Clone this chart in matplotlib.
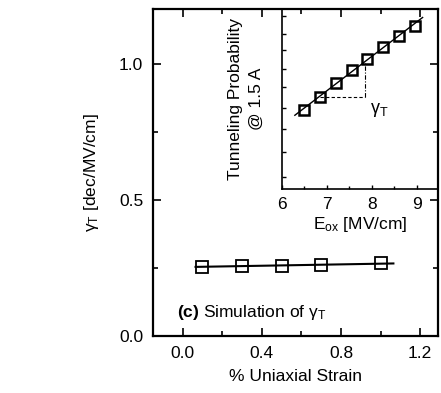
import numpy as np
import matplotlib
matplotlib.use("Agg")
import matplotlib.pyplot as plt
from matplotlib.ticker import MultipleLocator, FixedLocator

plt.rcParams['font.family'] = ['Liberation Sans', 'DejaVu Sans']
plt.rcParams['mathtext.fontset'] = 'custom'
plt.rcParams['mathtext.rm'] = 'Liberation Sans'
plt.rcParams['mathtext.it'] = 'Liberation Sans'
plt.rcParams['mathtext.bf'] = 'Liberation Sans:bold'

# main data
strain = [0.1, 0.3, 0.5, 0.7, 1.0]
gamma_t = [0.255, 0.257, 0.258, 0.260, 0.267]
fit_x = [0.065, 1.065]

# inset data
eox = [6.5, 6.85, 7.2, 7.55, 7.9, 8.25, 8.6, 8.95]
tun_prob = [0.439, 0.513, 0.591, 0.661, 0.722, 0.791, 0.852, 0.906]
inset_fit_x = [6.29, 9.13]
inset_yticks = [0.067, 0.206, 0.333, 0.45, 0.567, 0.667, 0.772, 0.861, 0.963]
gamma_x = 7.84

fig = plt.figure(figsize=(4.41, 3.93), dpi=100)
ax = fig.add_axes([0.347, 0.145, 0.646, 0.832])

c = np.polyfit(strain, gamma_t, 1)
ax.plot(fit_x, np.polyval(c, fit_x), color='black', lw=1.5, zorder=2)
ax.plot(strain, gamma_t, ls='none', marker='s', ms=8, mfc='none', mec='black', mew=1.3, zorder=3)

ax.set_xlim(-0.15, 1.29)
ax.set_ylim(0, 1.2)
ax.xaxis.set_major_locator(FixedLocator([0.0, 0.4, 0.8, 1.2]))
ax.xaxis.set_minor_locator(MultipleLocator(0.2))
ax.yaxis.set_major_locator(FixedLocator([0.0, 0.5, 1.0]))
ax.yaxis.set_minor_locator(MultipleLocator(0.25))
ax.set_xticklabels(['0.0', '0.4', '0.8', '1.2'])
ax.set_yticklabels(['0.0', '0.5', '1.0'])
ax.tick_params(which='both', direction='in', top=True, right=True, width=1.2, labelsize=12.5)
ax.tick_params(axis='x', pad=7)
ax.tick_params(axis='y', pad=7)
ax.tick_params(which='major', length=6)
ax.tick_params(which='minor', length=3.5)
for s in ax.spines.values():
    s.set_linewidth(1.6)
ax.set_xlabel('% Uniaxial Strain', fontsize=12.5, labelpad=6)
ax.set_ylabel(r'$\gamma_\mathrm{T}$ [dec/MV/cm]', fontsize=12.5, labelpad=13)
ax.text(-0.03, 0.07, r'$\mathbf{(c)}$ Simulation of $\gamma_\mathrm{T}$', fontsize=12.5, va='baseline')

# inset
ins = fig.add_axes([0.639, 0.519, 0.354, 0.458])
ins.patch.set_alpha(0)
ci = np.polyfit(eox, tun_prob, 1)
ins.plot(inset_fit_x, np.polyval(ci, inset_fit_x), color='black', lw=1.0, zorder=2)
ins.plot(eox, tun_prob, ls='none', marker='s', ms=7, mfc='none', mec='black', mew=1.8, zorder=3)
y2 = tun_prob[1]
ins.plot([eox[1], gamma_x], [y2, y2], color='black', lw=0.8, ls=(0, (3, 2)))
ins.plot([gamma_x, gamma_x], [y2, np.polyval(ci, gamma_x)], color='black', lw=0.8, ls=(0, (4, 1.5, 1, 1.5)))
ins.text(7.95, 0.44, r'$\gamma_\mathrm{T}$', fontsize=13, va='center')
ins.set_xlim(6, 9.47)
ins.set_ylim(0, 1)
ins.xaxis.set_major_locator(FixedLocator([6, 7, 8, 9]))
ins.xaxis.set_minor_locator(MultipleLocator(0.5))
ins.yaxis.set_major_locator(FixedLocator(inset_yticks))
ins.set_yticklabels([])
ins.set_xticklabels(['6', '7', '8', '9'])
ins.tick_params(which='both', direction='in', top=False, right=False, width=1.0, labelsize=12.5, pad=6)
ins.tick_params(which='major', length=3)
ins.tick_params(which='minor', length=2)
for s in ins.spines.values():
    s.set_linewidth(1.2)
ins.spines['top'].set_visible(False)
ins.spines['right'].set_visible(False)
ins.set_xlabel(r'E$_\mathrm{ox}$ [MV/cm]', fontsize=12.5, labelpad=2)
ins.set_ylabel('Tunneling Probability\n@ 1.5 A', fontsize=12.5, labelpad=7, linespacing=1.45)

fig.savefig('out.png', dpi=100)
